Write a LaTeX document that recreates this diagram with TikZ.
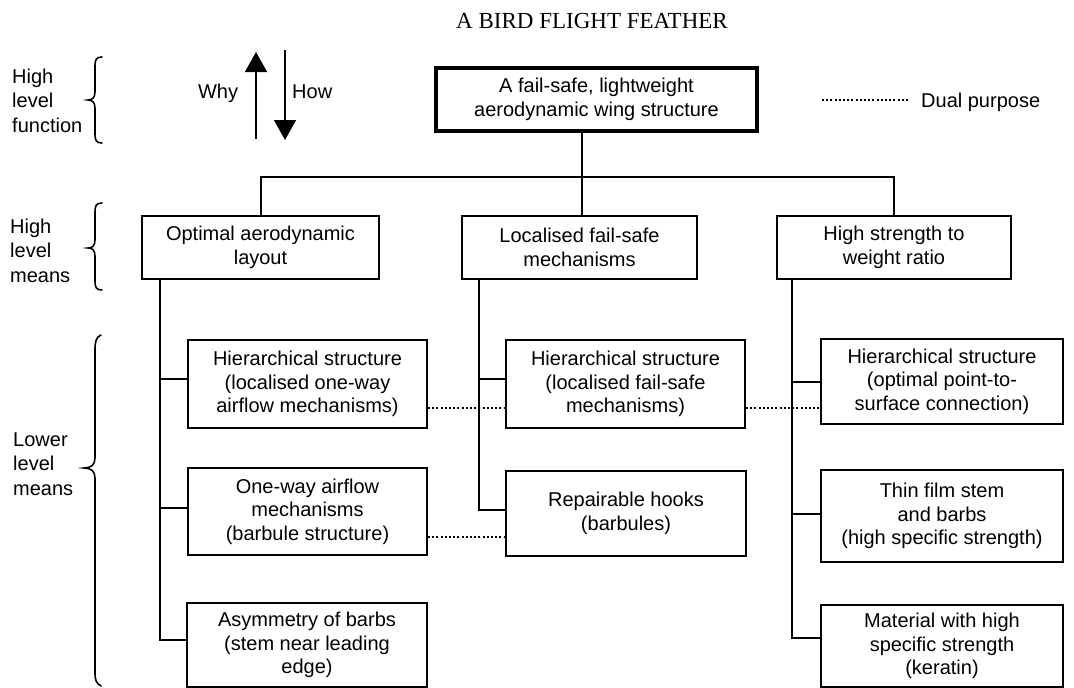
\documentclass[tikz,border=0pt]{standalone}
\usepackage{fontspec}
\setmainfont{Liberation Sans}
\newfontfamily\titlefont{Liberation Serif}
\usetikzlibrary{arrows.meta}
\begin{document}
\begin{tikzpicture}[x=1pt,y=-1pt,
  box/.style={draw, line width=2pt, inner sep=0pt, align=center, font=\fontsize{20}{23.5}\selectfont},
  side/.style={anchor=base west, align=left, inner sep=0pt, font=\fontsize{20}{24.5}\selectfont},
  lbl/.style={inner sep=0pt, font=\fontsize{20}{24}\selectfont},
  link/.style={line width=2pt},
  dual/.style={line width=2pt, dash pattern=on 2pt off 2.2pt},
  bracepath/.style={line width=1.6pt, line cap=round},
  whyhow/.style={line width=1.5pt, -{Triangle[width=22pt,length=20pt]}}]
\useasboundingbox (0,0) rectangle (1074,688);

% title
\node[inner sep=0pt, anchor=base, font=\titlefont\fontsize{23}{23}\selectfont] (title) at (592,28) {A BIRD FLIGHT FEATHER};

% side labels (anchor at baseline of last line)
\node[side] (s1) at (12,132) {High\\level\\function};
\node[side] (s2) at (10,282) {High\\level\\means};
\node[side] (s3) at (13,495) {Lower\\level\\means};

% braces
\draw[bracepath] (102,57) .. controls (96,57) and (95,60) .. (95,66) -- (95,92) .. controls (95,98) and (92,100) .. (88,100) .. controls (92,100) and (95,102) .. (95,108) -- (95,134) .. controls (95,140) and (96,143) .. (102,143);
\draw[bracepath] (102,203) .. controls (96,203) and (95,206) .. (95,212) -- (95,240) .. controls (95,246) and (92,248) .. (88,248) .. controls (92,248) and (95,250) .. (95,256) -- (95,281) .. controls (95,287) and (96,290) .. (102,290);
\draw[bracepath] (101,335) .. controls (96,337) and (95,342) .. (95,350) -- (95,458) .. controls (95,465) and (91,468) .. (84,468) .. controls (91,468) and (95,471) .. (95,478) -- (95,672) .. controls (95,680) and (96,683) .. (101,686);

% why / how
\coordinate (wy0) at (256,139);
\coordinate (wy1) at (256,52);
\coordinate (hw0) at (285,50);
\coordinate (hw1) at (285,140);
\draw[whyhow] (wy0) -- (wy1);
\draw[whyhow] (hw0) -- (hw1);
\node[lbl, anchor=base] (why) at (218,98) {Why};
\node[lbl, anchor=base west] (how) at (292,98) {How};

% legend
\coordinate (dp0) at (822,100);
\coordinate (dp1) at (910,100);
\draw[dual] (dp0) -- (dp1);
\node[lbl, anchor=base west] (dptext) at (921,107) {Dual purpose};

% top box
\node[box, line width=4pt, minimum width=321pt, minimum height=63pt] (T) at (596.5,99.5) {A fail-safe, lightweight\\aerodynamic wing structure};

% high level means
\node[box, minimum width=237pt, minimum height=63pt] (M1) at (260.5,247.5) {Optimal aerodynamic\\layout};
\node[box, minimum width=235pt, minimum height=63pt] (M2) at (579.5,247.5) {Localised fail-safe\\mechanisms};
\node[box, minimum width=234pt, minimum height=63pt] (M3) at (894,247.5) {High strength to\\weight ratio};

% lower level means
\node[box, minimum width=239pt, minimum height=88pt] (L1) at (307.5,384) {Hierarchical structure\\(localised one-way\\airflow mechanisms)};
\node[box, minimum width=239pt, minimum height=87pt] (L2) at (307.5,511.5) {One-way airflow\\mechanisms\\(barbule structure)};
\node[box, minimum width=240pt, minimum height=84pt] (L3) at (307,645) {Asymmetry of barbs\\(stem near leading\\edge)};

\node[box, minimum width=239pt, minimum height=88pt] (B1) at (625.5,384) {Hierarchical structure\\(localised fail-safe\\mechanisms)};
\node[box, minimum width=240pt, minimum height=85pt] (B2) at (626,513.5) {Repairable hooks\\(barbules)};

\node[box, minimum width=242pt, minimum height=85pt] (C1) at (942,381.5) {Hierarchical structure\\(optimal point-to-\\surface connection)};
\node[box, minimum width=242pt, minimum height=92pt] (C2) at (942,516) {Thin film stem\\and barbs\\(high specific strength)};
\node[box, minimum width=242pt, minimum height=82pt] (C3) at (942,646) {Material with high\\specific strength\\(keratin)};

% top tree
\coordinate (J) at (582,177);
\draw[link] (M1.north) -- (M1.north |- J) -- (M3.north |- J) -- (M3.north);
\draw[link] (J |- T.south) -- (J |- M2.north);

% spines
\coordinate (xL) at (160,0);
\coordinate (xM) at (479,0);
\coordinate (xR) at (792,0);
\path (L1.west) ++(0,-5) coordinate (l1);
\path (L2.west) ++(0,-3.5) coordinate (l2);
\path (L3.west) ++(0,-5) coordinate (l3);
\path (B1.west) ++(0,-5) coordinate (b1);
\path (B2.west) ++(0,-3.5) coordinate (b2);
\path (C1.west) ++(0,0.5) coordinate (c1);
\path (C2.west) ++(0,-2) coordinate (c2);
\path (C3.west) ++(0,-8) coordinate (c3);

\draw[link] (M1.south -| xL) -- (l3 -| xL) -- (l3);
\draw[link] (l1 -| xL) -- (l1);
\draw[link] (l2 -| xL) -- (l2);

\draw[link] (M2.south -| xM) -- (b2 -| xM) -- (b2);
\draw[link] (b1 -| xM) -- (b1);

\draw[link] (M3.south -| xR) -- (c3 -| xR) -- (c3);
\draw[link] (c1 -| xR) -- (c1);
\draw[link] (c2 -| xR) -- (c2);

% dual purpose links
\path (L1.east) ++(0,24) coordinate (d1);
\path (B1.east) ++(0,24) coordinate (d2);
\path (L2.east) ++(0,25.5) coordinate (d3);
\draw[dual] (d1) -- (d1 -| B1.west);
\draw[dual] (d2) -- (d2 -| C1.west);
\draw[dual] (d3) -- (d3 -| B2.west);
\end{tikzpicture}
\end{document}
